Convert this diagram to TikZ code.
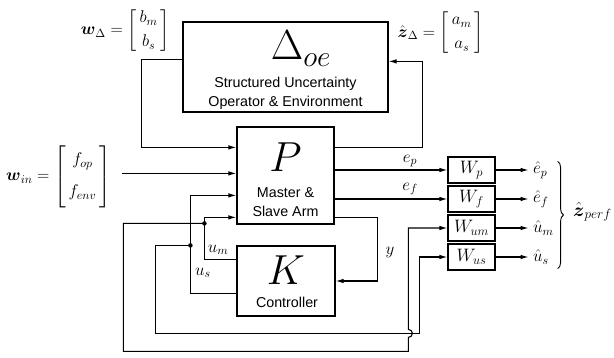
\RequirePackage{fix-cm}
\documentclass[tikz,border=0pt]{standalone}
\usepackage{amsmath}
\usepackage{fontspec}
\setsansfont{Liberation Sans}
\usetikzlibrary{arrows.meta,decorations.pathreplacing,calc}
\newcommand{\colvec}[4]{{\delimiterfactor=1000\delimitershortfall=0pt\arraycolsep=3pt
  \left[\vcenter{\hbox{\rule{0pt}{#1}}}\begin{array}{c} #3 \\[#2] #4 \end{array}\right]}}
\begin{document}
\begin{tikzpicture}[x=1pt,y=-1pt,
  box/.style={draw,line width=1.2pt,inner sep=0pt},
  wbox/.style={box,minimum width=47pt,minimum height=26pt,font=\fontsize{18}{20}\selectfont},
  conn/.style={line width=1.1pt},
  arr/.style={conn,-{Latex[length=8pt,width=4.5pt]}},
  dot/.style={circle,fill,inner sep=0pt,minimum size=4.5pt},
  mtxt/.style={font=\fontsize{17}{20}\selectfont,inner sep=0pt},
  stxt/.style={font=\fontsize{14.3}{16}\selectfont\sffamily,inner sep=0pt},
  bigl/.style={font=\fontsize{42}{42}\selectfont,inner sep=0pt}]
\useasboundingbox (0,0) rectangle (614,358);

% main boxes
\node[box,minimum width=205pt,minimum height=90pt] (D) at (285.5,67) {};
\node[box,minimum width=97pt,minimum height=97pt] (P) at (285.5,175.5) {};
\node[box,minimum width=98pt,minimum height=70pt] (K) at (286,281) {};

% box texts
\node[bigl,anchor=base] (Dsym) at (301,60) {$\Delta_{oe}$};
\node[stxt,anchor=base] (Dt1) at (285.5,88) {Structured Uncertainty};
\node[stxt,anchor=base] (Dt2) at (285.5,107) {Operator \& Environment};
\node[bigl,anchor=base] (Psym) at (285.5,172) {$P$};
\node[stxt,anchor=base] (Pt1) at (285.5,198) {Master \&};
\node[stxt,anchor=base] (Pt2) at (285.5,217) {Slave Arm};
\node[bigl,anchor=base] (Ksym) at (286,285) {$K$};
\node[stxt,anchor=base] (Kt) at (287,308) {Controller};

% weight boxes
\node[wbox] (Wp)  at (471.5,170) {$W_p$};
\node[wbox] (Wf)  at (471.5,199) {$W_f$};
\node[wbox] (Wum) at (471.5,228) {$W_{um}$};
\node[wbox] (Wus) at (471.5,257) {$W_{us}$};

% side labels
\node[mtxt,anchor=east] (wD) at (170,30.5) {$\boldsymbol{w}_\Delta = \colvec{44pt}{4pt}{b_m}{b_s}$};
\node[mtxt,anchor=east] (zD) at (484,33) {$\hat{\boldsymbol{z}}_\Delta = \colvec{44pt}{4pt}{a_m}{a_s}$};
\node[mtxt,anchor=east] (win) at (111,176.5) {$\boldsymbol{w}_{in} = \colvec{60pt}{12pt}{f_{op}}{f_{env}}$};

% P ports
\coordinate (pin1) at ($(P.north west)+(0,21)$);
\coordinate (pin2) at ($(P.north west)+(0,47)$);
\coordinate (pin3) at ($(P.north west)+(0,69)$);
\coordinate (pin4) at ($(P.north west)+(0,91)$);
\coordinate (pout1) at ($(P.north east)+(0,21)$);
\coordinate (pout4) at ($(P.north east)+(0,91)$);
\coordinate (jm) at ($(pin4)+(-32,6)$);
\coordinate (js) at ($(pin3)+(-46,50)$);

% Delta loop
\draw[arr] ($(D.north west)+(0,38)$) -- ++(-41,0) |- (pin1);
\draw[arr] (pout1) -- ++(88,0) |- ($(D.north east)+(0,40)$);

% exogenous input
\draw[arr] ($(pin2)+(-114,0)$) -- (pin2);

% performance outputs
\draw[arr] (P.east |- Wp.west) -- (Wp.west);
\draw[arr] (P.east |- Wf.west) -- (Wf.west);
\node[mtxt] (lep) at (410,161) {$e_p$};
\node[mtxt] (lef) at (410,189) {$e_f$};

% measurement y
\draw[arr] (pout4) -- ++(43,0) |- (K.east);
\node[mtxt] (ly) at (390,252) {$y$};

% controller outputs
\draw[arr] ($(K.north west)+(0,14)$) -- ++(-32,0) |- (pin4);
\draw[arr] ($(K.north west)+(0,48)$) -- ++(-46,0) |- (pin3);
\node[mtxt] (lum) at (218,250) {$u_m$};
\node[mtxt] (lus) at (203,273) {$u_s$};
\node[dot] (djm) at (jm) {};
\node[dot] (djs) at (js) {};

% feeds to weights
\draw[arr] (jm) -- ++(-81,0) |- ++(285,128) -- ++(0,-14)
  arc[start angle=90,end angle=-90,radius=4] |- (Wum.west);
\draw[arr] (js) -- ++(-35,0) |- ++(264,88) |- (Wus.west);

% weighted outputs
\draw[arr] (Wp.east) -- ++(33,0) node[mtxt,anchor=west,xshift=4pt] (hep) {$\hat{e}_p$};
\draw[arr] (Wf.east) -- ++(33,0) node[mtxt,anchor=west,xshift=4pt] (hef) {$\hat{e}_f$};
\draw[arr] (Wum.east) -- ++(33,0) node[mtxt,anchor=west,xshift=4pt] (hum) {$\hat{u}_m$};
\draw[arr] (Wus.east) -- ++(33,0) node[mtxt,anchor=west,xshift=4pt] (hus) {$\hat{u}_s$};

% brace
\draw[decorate,decoration={brace,amplitude=6pt},line width=0.9pt]
  ([xshift=62pt,yshift=-5pt]Wp.north east) -- ([xshift=62pt,yshift=2pt]Wus.south east);
\node[mtxt,font=\fontsize{19}{22}\selectfont,anchor=west] (zp) at (573,212) {$\hat{\boldsymbol{z}}_{perf}$};
\end{tikzpicture}
\end{document}
